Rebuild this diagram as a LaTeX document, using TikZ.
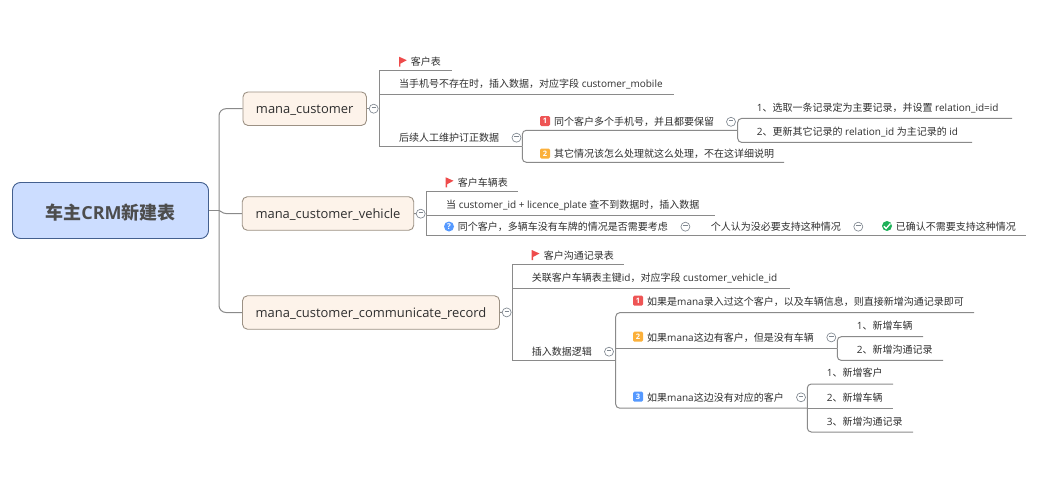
\documentclass[tikz,border=0pt]{standalone}
\usepackage{fontspec}
\setmainfont{Open Sans}
\newfontfamily\cj{Noto Sans CJK SC}
\newcommand{\Z}[1]{{\cj #1}}
\definecolor{linec}{HTML}{8A8A8A}
\definecolor{foldc}{HTML}{7F8790}
\definecolor{txt}{HTML}{2E2E2E}
\definecolor{rootfill}{HTML}{CCDDFF}
\definecolor{rootedge}{HTML}{44608F}
\definecolor{topfill}{HTML}{FDF3EA}
\definecolor{topedge}{HTML}{9C9184}
\definecolor{flagred}{HTML}{EE4B4B}
\definecolor{bred}{HTML}{EE5555}
\definecolor{borange}{HTML}{FBB03B}
\definecolor{bblue}{HTML}{5599FF}
\definecolor{bgreen}{HTML}{1FB25A}
\tikzset{
  conn/.style={draw=linec,line width=1pt},
  rconn/.style={conn,rounded corners=4pt},
  lbl/.style={anchor=base west,inner sep=0pt,text=txt,font=\fontsize{10}{12}\selectfont,yshift=-3.5pt},
  root/.style={draw=rootedge,fill=rootfill,line width=0.9pt,rounded corners=8pt,inner sep=0pt,text=txt!85,text height=17pt,text depth=0pt,font=\fontsize{18}{22}\selectfont\bfseries},
  topicbox/.style={draw=topedge,fill=topfill,line width=0.9pt,rounded corners=5pt,inner sep=0pt,text=txt,text height=10.4pt,text depth=0pt,font=\fontsize{12.95}{16}\selectfont},
  fold/.style={circle,draw=foldc,fill=white,line width=0.65pt,minimum size=9pt,inner sep=0pt},
  badge/.style={rounded corners=1.3pt,minimum size=10pt,inner sep=0pt,text=white,font=\fontsize{7.5}{8}\selectfont\bfseries},
  roundbadge/.style={circle,minimum size=10pt,inner sep=0pt,text=white,font=\fontsize{8}{8}\selectfont\bfseries},
}
\newcommand{\minusmark}{\textcolor{foldc}{\rule[2pt]{4.4pt}{0.7pt}}}
\newcommand{\flagat}[2]{%
  \fill[flagred] (#1,#2) -- (#1+7.8,#2+3.5) -- (#1+1.3,#2+7) -- (#1+1.3,#2+10) -- (#1,#2+10) -- cycle;}
\begin{document}
\begin{tikzpicture}[x=1pt,y=-1pt]
\useasboundingbox (0,0) rectangle (1055,479);
% main boxes
\node[root,minimum width=196pt,minimum height=56pt] (root) at (110.5,210.5) {\Z{车主}CRM\Z{新建表}};
\node[topicbox,minimum width=123.5pt,minimum height=33.5pt] (t1) at (304.7,108.7) {mana\_customer};
\node[topicbox,minimum width=171.5pt,minimum height=33.5pt] (t2) at (328,213.5) {mana\_customer\_vehicle};
\node[topicbox,minimum width=257pt,minimum height=33.5pt] (t3) at (371,312.5) {mana\_customer\_communicate\_record};
% fold marks
\node[fold] (f1) at (373.7,108.7) {\minusmark};
\node[fold] (f1a) at (516.5,137.7) {\minusmark};
\node[fold] (f1b) at (731,121.8) {\minusmark};
\node[fold] (f2) at (420.7,213.7) {\minusmark};
\node[fold] (f2a) at (685.4,226.7) {\minusmark};
\node[fold] (f2b) at (858.3,226.7) {\minusmark};
\node[fold] (f3) at (506.7,312.4) {\minusmark};
\node[fold] (f3a) at (609,351.7) {\minusmark};
\node[fold] (f3b) at (831.3,337.4) {\minusmark};
\node[fold] (f3c) at (801,397.3) {\minusmark};
% junctions and line ends
\coordinate (j0) at (219,210.5);
\coordinate (j1) at (379.8,108.7);
\coordinate (e1a) at (452,70.7);
\coordinate (e1b) at (674,94.3);
\coordinate (e1c) at (379.8,146.7);
\coordinate (j1c) at (522.3,146.7);
\coordinate (j1d) at (737.7,130.3);
\coordinate (e1e) at (784,162.3);
\coordinate (e1f) at (1012,118.4);
\coordinate (e1g) at (972,142.4);
\coordinate (j2) at (426.7,213.7);
\coordinate (e2a) at (518,191.7);
\coordinate (e2b) at (715,215.3);
\coordinate (e2c) at (1026,235.3);
\coordinate (j3) at (512.3,312.4);
\coordinate (e3a) at (624,264.4);
\coordinate (e3b) at (790,288.4);
\coordinate (j3c) at (615.7,360);
\coordinate (e3d) at (974,312.7);
\coordinate (e3e) at (837.3,348.4);
\coordinate (e3f) at (807.3,408.2);
\coordinate (e3g) at (923,336.7);
\coordinate (e3h) at (943,360.4);
\coordinate (e3i) at (893,384);
\coordinate (e3j) at (893,408.2);
\coordinate (e3k) at (913,432);
% connectors
\draw[conn] (root.east) -- (j0);
\draw[rconn,rounded corners=7pt] (j0) |- (t1.west);
\draw[rconn,rounded corners=7pt] (j0) |- (t3.west);
\draw[conn] (j0) .. controls (221,210.5) and (222,213.5) .. (226,213.5) -- (t2.west);
\draw[conn] (t1.east) -- (f1.west);
\draw[conn] (f1.east) -- (j1);
\draw[conn] (j1) |- (e1a);
\draw[conn] (j1) |- (e1b);
\draw[conn] (j1) -- (e1c) -- (j1c);
\draw[rconn] (j1c) |- (j1d);
\draw[rconn] (j1c) |- (e1e);
\draw[rconn] (j1d) |- (e1f);
\draw[rconn] (j1d) |- (e1g);
\draw[conn] (t2.east) -- (f2.west);
\draw[conn] (f2.east) -- (j2);
\draw[conn] (j2) |- (e2a);
\draw[conn] (j2) |- (e2b);
\draw[conn] (j2) |- (e2c);
\draw[conn] (t3.east) -- (f3.west);
\draw[conn] (f3.east) -- (j3);
\draw[conn] (j3) |- (e3a);
\draw[conn] (j3) |- (e3b);
\draw[conn] (j3) |- (j3c);
\draw[rconn] (j3c) |- (e3d);
\draw[conn] (j3c |- e3e) -- (e3e);
\draw[rconn] (j3c) |- (e3f);
\draw[rconn] (e3e) |- (e3g);
\draw[rconn] (e3e) |- (e3h);
\draw[rconn] (e3f) |- (e3i);
\draw[conn] (e3f) -- (e3j);
\draw[rconn] (e3f) |- (e3k);
% branch 1 labels
\flagat{399}{56.7}
\node[lbl] (a1) at (410.7,62) {\Z{客户表}};
\node[lbl] (a2) at (399,84) {\Z{当手机号不存在时，插入数据，对应字段} customer\_mobile};
\node[lbl] (a3) at (399,137.7) {\Z{后续人工维护订正数据}};
\node[badge,fill=bred] (b1) at (545,121) {1};
\node[lbl] (a4) at (554,121.5) {\Z{同个客户多个手机号，并且都要保留}};
\node[badge,fill=borange] (b2) at (545,153.5) {2};
\node[lbl] (a5) at (554,154) {\Z{其它情况该怎么处理就这么处理，不在这详细说明}};
\node[lbl] (a6) at (756.7,108.3) {1\Z{、选取一条记录定为主要记录，并设置} relation\_id=id};
\node[lbl] (a7) at (756.7,131.7) {2\Z{、更新其它记录的} relation\_id \Z{为主记录的} id};
% branch 2 labels
\flagat{445.7}{177.3}
\node[lbl] (c1) at (457.7,182.7) {\Z{客户车辆表}};
\node[lbl] (c2) at (446,205) {\Z{当} customer\_id + licence\_plate \Z{查不到数据时，插入数据}};
\node[roundbadge,fill=bblue] (q1) at (449,226.5) {?};
\node[lbl] (c3) at (457.7,226.7) {\Z{同个客户，多辆车没有车牌的情况是否需要考虑}};
\node[lbl] (c4) at (710.7,226.7) {\Z{个人认为没必要支持这种情况}};
\node[roundbadge,fill=bgreen] (ok) at (887,226) {};
\draw[white,line width=1.3pt] (883.8,226.2) -- (886.1,228.5) -- (890.4,223.6);
\node[lbl] (c5) at (895.7,226.7) {\Z{已确认不需要支持这种情况}};
% branch 3 labels
\flagat{531.7}{250}
\node[lbl] (d1) at (543.7,256) {\Z{客户沟通记录表}};
\node[lbl] (d2) at (531.7,277.7) {\Z{关联客户车辆表主键}id\Z{，对应字段} customer\_vehicle\_id};
\node[lbl] (d3) at (531.7,351.7) {\Z{插入数据逻辑}};
\node[badge,fill=bred] (b3) at (638,300.7) {1};
\node[lbl] (d4) at (647,301.5) {\Z{如果是}mana\Z{录入过这个客户，以及车辆信息，则直接新增沟通记录即可}};
\node[badge,fill=borange] (b4) at (638,336.7) {2};
\node[lbl] (d5) at (647,337.5) {\Z{如果}mana\Z{这边有客户，但是没有车辆}};
\node[badge,fill=bblue] (b5) at (638,396.7) {3};
\node[lbl] (d6) at (647,397.5) {\Z{如果}mana\Z{这边没有对应的客户}};
\node[lbl] (d7) at (856.7,325.7) {1\Z{、新增车辆}};
\node[lbl] (d8) at (856.7,349.7) {2\Z{、新增沟通记录}};
\node[lbl] (d9) at (826.7,373.3) {1\Z{、新增客户}};
\node[lbl] (d10) at (826.7,397.7) {2\Z{、新增车辆}};
\node[lbl] (d11) at (826.7,421.7) {3\Z{、新增沟通记录}};
\end{tikzpicture}
\end{document}
